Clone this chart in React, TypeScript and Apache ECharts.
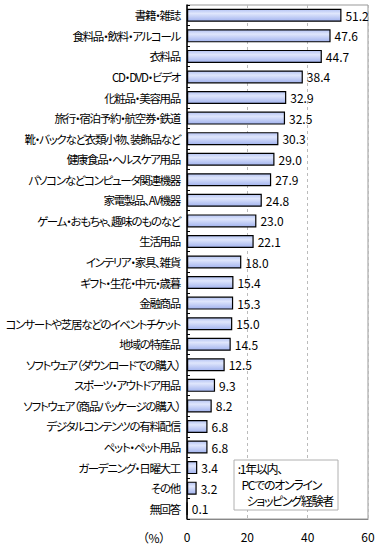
import React, { useEffect, useRef } from "react";
import * as echarts from "echarts";

const categories = [
  "書籍・雑誌",
  "食料品・飲料・アルコール",
  "衣料品",
  "CD・DVD・ビデオ",
  "化粧品・美容用品",
  "旅行・宿泊予約・航空券・鉄道",
  "靴・バックなど衣類小物、装飾品など",
  "健康食品・ヘルスケア用品",
  "パソコンなどコンピュータ関連機器",
  "家電製品、AV機器",
  "ゲーム・おもちゃ、趣味のものなど",
  "生活用品",
  "インテリア・家具、雑貨",
  "ギフト・生花・中元・歳暮",
  "金融商品",
  "コンサートや芝居などのイベントチケット",
  "地域の特産品",
  "ソフトウェア（ダウンロードでの購入）",
  "スポーツ・アウトドア用品",
  "ソフトウェア（商品パッケージの購入）",
  "デジタルコンテンツの有料配信",
  "ペット・ペット用品",
  "ガーデニング・日曜大工",
  "その他",
  "無回答",
];

const values = [
  51.2, 47.6, 44.7, 38.4, 32.9, 32.5, 30.3, 29.0, 27.9, 24.8, 23.0, 22.1, 18.0,
  15.4, 15.3, 15.0, 14.5, 12.5, 9.3, 8.2, 6.8, 6.8, 3.4, 3.2, 0.1,
];

const xTicks = { min: 0, max: 60, interval: 20 };
const unitLabel = "（%）";
const legendLines = [":1年以内、", "PCでのオンライン", "ショッピング経験者"];

const FONT = "'Noto Sans CJK JP', sans-serif";

export default function App() {
  const ref = useRef<HTMLDivElement>(null);

  useEffect(() => {
    if (!ref.current) return;
    const chart = echarts.init(ref.current, null, { renderer: "svg" });
    const legendText = (text: string, x: number, y: number) => ({
      type: "text",
      x,
      y,
      style: {
        text,
        fill: "#000",
        font: `12px ${FONT}`,
        textAlign: "right",
        textVerticalAlign: "middle",
      },
      z: 101,
    });
    chart.setOption({
      animation: false,
      textStyle: { fontFamily: FONT },
      grid: {
        left: 187,
        right: 12,
        top: 5,
        bottom: 31,
        containLabel: false,
        outerBoundsMode: "none",
        show: true,
        borderColor: "#999",
        borderWidth: 1,
        backgroundColor: "#fff",
      },
      xAxis: {
        type: "value",
        min: xTicks.min,
        max: xTicks.max,
        interval: xTicks.interval,
        axisLine: { show: true, lineStyle: { color: "#888", width: 1 } },
        axisTick: { show: false },
        axisLabel: { color: "#000", fontSize: 12, margin: 11, fontFamily: FONT },
        splitLine: {
          show: true,
          lineStyle: { color: "#bbb", type: [3, 3], width: 1 },
        },
      },
      yAxis: {
        type: "category",
        inverse: true,
        data: categories,
        axisLine: { show: true, lineStyle: { color: "#000", width: 1.5 } },
        axisTick: {
          show: true,
          inside: true,
          length: 3,
          lineStyle: { color: "#000", width: 1 },
        },
        axisLabel: {
          color: "#000",
          fontSize: 11.5,
          margin: 7,
          fontFamily: FONT,
          interval: 0,
        },
        splitLine: { show: false },
      },
      series: [
        {
          type: "bar",
          data: values,
          barWidth: 13,
          itemStyle: {
            color: new echarts.graphic.LinearGradient(0, 0, 0, 1, [
              { offset: 0, color: "#b4c3f3" },
              { offset: 0.35, color: "#dfe6fc" },
              { offset: 1, color: "#a2b3ee" },
            ]),
            borderColor: "#000",
            borderWidth: 1.2,
          },
          label: {
            show: true,
            position: "right",
            distance: 4,
            color: "#000",
            fontSize: 12,
            fontFamily: FONT,
            formatter: (p: any) => Number(p.value).toFixed(1),
          },
        },
      ],
      graphic: [
        {
          type: "text",
          x: 154,
          y: 537,
          style: {
            text: unitLabel,
            fill: "#000",
            font: `12px ${FONT}`,
            textAlign: "center",
            textVerticalAlign: "middle",
          },
        },
        {
          type: "rect",
          shape: { x: 234, y: 460, width: 104, height: 50 },
          style: { fill: "#fff", stroke: "#b0b0b0", lineWidth: 1 },
          z: 100,
        },
        legendText(legendLines[0], 282, 468),
        legendText(legendLines[1], 321, 484),
        legendText(legendLines[2], 333, 500),
      ],
    });
    return () => chart.dispose();
  }, []);

  return (
    <>
      <style>{`#chart svg text { font-feature-settings: "palt" 1 !important; }
#chart svg text[text-anchor="end"] { letter-spacing: -1.3px; }`}</style>
      <div
        id="chart"
        ref={ref}
        style={{ position: "absolute", left: 0, top: 0, width: 380, height: 550 }}
      />
    </>
  );
}
